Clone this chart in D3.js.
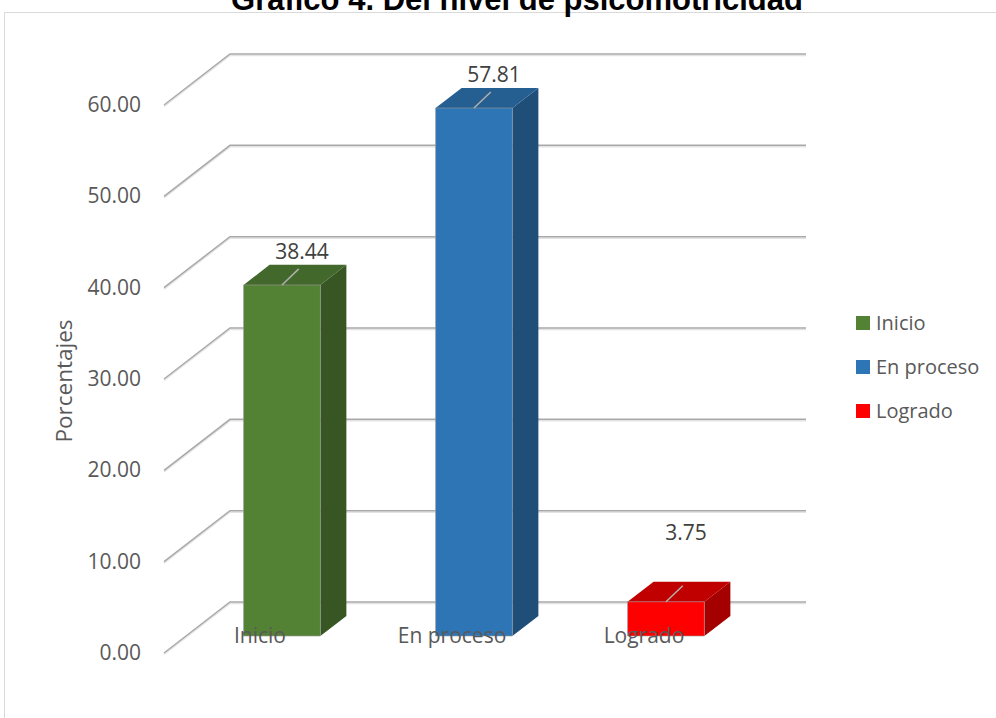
<!DOCTYPE html>
<html>
<head>
<meta charset="utf-8">
<script src="https://cdn.jsdelivr.net/npm/d3@7"></script>
<style>
  body { margin: 0; background: #fff; }
  svg { display: block; font-family: "Open Sans", sans-serif; }
</style>
</head>
<body>
<svg width="996" height="718"></svg>
<script>
let width = 996;
let height = 718;

// data
let categories = ['Inicio', 'En proceso', 'Logrado'];
let values = [38.44, 57.81, 3.75];
let colors = ['#548235', '#2e75b6', '#ff0000'];
let sideColors = ['#375623', '#1f4e79', '#a50000'];
let topColors = ['#43682b', '#255e91', '#c00000'];
let ticks = [0, 10, 20, 30, 40, 50, 60];

// 3d floor: back wall coords + depth offset
let depthX = -66;
let depthY = 51;
let yBack = d3.scaleLinear().domain([0, 60]).range([602, 54]);
let xBack = d3.scaleBand().domain(categories).range([230, 806]).padding(0);
let proj = (xb, v, t) => [xb + depthX * t, yBack(v) + depthY * t];
let tFront = 0.667;
let tBack = 0.273;
let barW = xBack.bandwidth() * 0.4;

let svg = d3.select('svg');

// chart border
svg.append('rect')
  .attr('x', 4.5).attr('y', 12.5)
  .attr('width', 1100).attr('height', 800)
  .attr('fill', 'none')
  .attr('stroke', '#d9d9d9');

// title (cut at the top, as in the source)
svg.append('text')
  .attr('x', 517).attr('y', 10)
  .attr('text-anchor', 'middle')
  .attr('font-family', '"Liberation Sans", Arial, sans-serif')
  .attr('font-weight', 'bold')
  .attr('font-size', 31)
  .attr('fill', '#000')
  .text('Gráfico 4. Del nivel de psicomotricidad');

// gridlines
let grid = svg.append('g').attr('class', 'grid');
ticks.forEach(v => {
  let pts = [proj(230, v, 1), proj(230, v, 0), proj(806, v, 0)];
  grid.append('path')
    .attr('d', d3.line()(pts.map(p => [p[0], p[1] + 1.5])))
    .attr('fill', 'none').attr('stroke', '#e3e3e3').attr('stroke-width', 1.5);
  grid.append('path')
    .attr('d', d3.line()(pts))
    .attr('fill', 'none').attr('stroke', '#a9a9a9').attr('stroke-width', 1.5);
});

// tick labels
svg.append('g').selectAll('text')
  .data(ticks)
  .enter()
    .append('text')
    .attr('x', 141)
    .attr('y', d => proj(230, d, 1)[1] + 7)
    .attr('text-anchor', 'end')
    .attr('font-size', 21)
    .attr('fill', '#595959')
    .text(d => d.toFixed(2));

// axis title
svg.append('text')
  .attr('transform', 'translate(72,381) rotate(-90)')
  .attr('text-anchor', 'middle')
  .attr('font-size', 22.5)
  .attr('fill', '#595959')
  .text('Porcentajes');

// bars
let bars = svg.append('g').attr('class', 'bars');
categories.forEach((c, i) => {
  let v = values[i];
  let cx = xBack(c) + xBack.bandwidth() / 2;
  let xl = cx - barW / 2, xr = cx + barW / 2;
  let fTL = proj(xl, v, tFront), fTR = proj(xr, v, tFront);
  let fBL = proj(xl, 0, tFront), fBR = proj(xr, 0, tFront);
  let bTL = proj(xl, v, tBack), bTR = proj(xr, v, tBack);
  let bBR = proj(xr, 0, tBack);
  let g = bars.append('g');
  g.append('path')
    .attr('d', d3.line()([fTR, bTR, bBR, fBR]) + 'Z')
    .attr('fill', sideColors[i]);
  g.append('path')
    .attr('d', d3.line()([fTL, fTR, bTR, bTL]) + 'Z')
    .attr('fill', topColors[i]);
  g.append('path')
    .attr('d', d3.line()([fTL, fTR, fBR, fBL]) + 'Z')
    .attr('fill', colors[i])
    .attr('stroke', '#9a9a9a').attr('stroke-width', 0.6);

  // leader line + value label
  let fc = proj(cx, v, tFront);
  let bc = proj(cx, v, tBack);
  g.append('line')
    .attr('x1', fc[0]).attr('y1', fc[1])
    .attr('x2', fc[0] + (bc[0] - fc[0]) * 0.8 - 4)
    .attr('y2', fc[1] + (bc[1] - fc[1]) * 0.8)
    .attr('stroke', '#b0b0b0').attr('stroke-width', 1.5);
  let ly = Math.min(proj(cx, v, tBack)[1], proj(cx, 7.7, tBack)[1]) - 6;
  g.append('text')
    .attr('x', fc[0] + 20)
    .attr('y', ly)
    .attr('text-anchor', 'middle')
    .attr('font-size', 21)
    .attr('fill', '#404040')
    .text(v.toFixed(2));
});

// category labels
svg.append('g').selectAll('text')
  .data(categories)
  .enter()
    .append('text')
    .attr('x', d => proj(xBack(d) + xBack.bandwidth() / 2, 0, 1)[0])
    .attr('y', d => proj(0, 0, 1)[1] - 10)
    .attr('text-anchor', 'middle')
    .attr('font-size', 21)
    .attr('fill', '#595959')
    .text(d => d);

// legend
let legend = svg.append('g').attr('transform', 'translate(856,316)');
categories.forEach((c, i) => {
  legend.append('rect')
    .attr('x', 0).attr('y', i * 44)
    .attr('width', 14).attr('height', 14)
    .attr('fill', colors[i]);
  legend.append('text')
    .attr('x', 20).attr('y', i * 44 + 14)
    .attr('font-size', 20)
    .attr('fill', '#595959')
    .text(c);
});
</script>
</body>
</html>
